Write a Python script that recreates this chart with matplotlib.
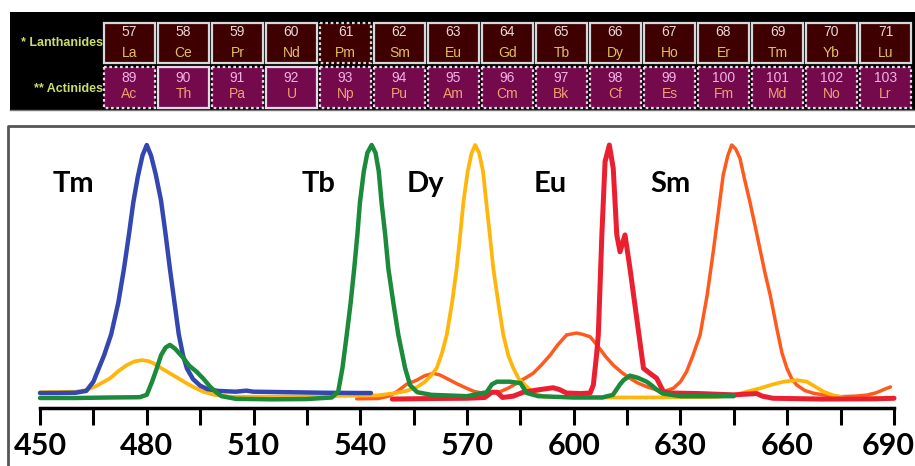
import matplotlib.pyplot as plt
from matplotlib.patches import Rectangle
from matplotlib.transforms import offset_copy

# --- periodic table strip ---
lan_numbers = list(range(57, 72))
lan_symbols = ["La", "Ce", "Pr", "Nd", "Pm", "Sm", "Eu", "Gd", "Tb", "Dy", "Ho", "Er", "Tm", "Yb", "Lu"]
lan_dotted = ["Pm"]
act_numbers = list(range(89, 104))
act_symbols = ["Ac", "Th", "Pa", "U", "Np", "Pu", "Am", "Cm", "Bk", "Cf", "Es", "Fm", "Md", "No", "Lr"]
act_solid = ["Th", "U"]

# --- emission spectra (wavelength nm, normalised intensity) ---
tm_x = [450, 455, 460, 463, 465, 466.5, 468, 470, 472, 473.6, 475, 476.2, 477.5, 478.8, 480,
        481.2, 482.5, 484, 485.3, 486.5, 487.8, 489, 490.2, 491.3, 493, 495, 497, 500, 505,
        508, 510, 520, 530, 540, 543]
tm_y = [0.057, 0.057, 0.058, 0.065, 0.10, 0.15, 0.20, 0.28, 0.40, 0.53, 0.66, 0.78, 0.88, 0.96, 1.0,
        0.96, 0.89, 0.79, 0.66, 0.53, 0.40, 0.28, 0.20, 0.15, 0.11, 0.085, 0.072, 0.065, 0.062,
        0.066, 0.062, 0.060, 0.058, 0.057, 0.057]

tb_x = [450, 460, 470, 478, 480, 481.5, 482.8, 484, 485.3, 486.5, 488, 490.3, 492, 494, 496,
        497.8, 499.5, 501, 505, 515, 525, 532, 533.8, 535, 536.2, 537.3, 538.3, 539.2, 539.9,
        541, 542, 543.2, 544.3, 545.2, 546, 547, 547.9, 549.3, 550.7, 552.6, 554, 556, 560,
        570, 575.5, 577, 578.4, 582, 585, 586.8, 590, 600, 608, 611, 613, 614, 615.8, 618,
        620.5, 622, 623.3, 625, 630, 640, 645]
tb_y = [0.038, 0.038, 0.040, 0.041, 0.05, 0.10, 0.15, 0.20, 0.23, 0.24, 0.225, 0.19, 0.16, 0.138, 0.11,
        0.081, 0.06, 0.045, 0.035, 0.033, 0.034, 0.04, 0.062, 0.152, 0.278, 0.40, 0.53, 0.66, 0.78,
        0.90, 0.97, 1.0, 0.97, 0.90, 0.78, 0.66, 0.53, 0.40, 0.278, 0.152, 0.087, 0.06, 0.05,
        0.045, 0.06, 0.09, 0.10, 0.10, 0.095, 0.057, 0.045, 0.04, 0.04, 0.05, 0.09, 0.106, 0.123, 0.115,
        0.10, 0.085, 0.07, 0.055, 0.045, 0.045, 0.045]

dy_x = [450, 460, 463, 466, 469.7, 472, 474.4, 476.5, 478.6, 480.5, 481.9, 484, 486.5, 489,
        491.2, 493.5, 495.9, 499, 503.4, 515, 530, 545, 550, 553, 556, 558.2, 560, 561.5, 563,
        564.3, 565.8, 567.1, 568.1, 569, 570.2, 571.3, 572.3, 573.4, 574.5, 575.4, 576.4, 577.4,
        578.8, 580.2, 581.6, 583, 584.6, 586.3, 588.5, 591.5, 600, 620, 640, 645, 648.6, 652.4,
        656, 659, 662.7, 665.5, 668, 670.2, 673, 676.7, 687, 689]
dy_y = [0.06, 0.062, 0.068, 0.085, 0.113, 0.14, 0.163, 0.177, 0.182, 0.178, 0.17, 0.152, 0.132, 0.112,
        0.094, 0.077, 0.062, 0.05, 0.043, 0.043, 0.045, 0.048, 0.057, 0.065, 0.08, 0.10, 0.125, 0.152, 0.21,
        0.278, 0.40, 0.53, 0.66, 0.784, 0.90, 0.97, 1.0, 0.97, 0.90, 0.784, 0.66, 0.53,
        0.40, 0.278, 0.20, 0.152, 0.11, 0.087, 0.06, 0.043, 0.04, 0.04, 0.042, 0.048, 0.062, 0.075,
        0.09, 0.10, 0.106, 0.10, 0.08, 0.062, 0.048, 0.037, 0.037, 0.037]

eu_x = [549, 560, 570, 575, 577, 578.4, 580, 583, 585.8, 590.5, 594.2, 596, 598, 602, 604.6,
        605.5, 606.4, 606.9, 607.9, 608.8, 610, 611.1, 612.1, 613, 614.4, 615.8, 617.7, 619.6,
        621.4, 623.3, 625.2, 627, 635, 645, 651.4, 653, 656, 670, 685, 690]
eu_y = [0.034, 0.036, 0.037, 0.04, 0.06, 0.06, 0.04, 0.045, 0.06, 0.07, 0.077, 0.07, 0.057, 0.055, 0.057,
        0.087, 0.20, 0.278, 0.658, 0.937, 1.0, 0.911, 0.658, 0.594, 0.658, 0.531, 0.341, 0.151,
        0.132, 0.113, 0.062, 0.057, 0.055, 0.05, 0.055, 0.045, 0.037, 0.034, 0.035, 0.037]

sm_x = [539, 545, 548, 550.3, 553, 555.9, 558, 560.5, 562.5, 565.2, 567.5, 569.9, 572, 574.6,
        577, 579.3, 581.5, 584, 586.5, 588.6, 591, 593.3, 595.5, 598, 600.8, 602.5, 604.6, 606.5,
        609, 611.1, 613.5, 615.8, 618, 620.5, 623, 625.2, 628, 630, 631.7, 633.5, 635.5, 637.5,
        639.2, 640.7, 642, 643.3, 644.4, 645.5, 646.7, 648, 649.5, 651, 652.4, 653.8, 655.2,
        657.1, 658.5, 659.9, 661.3, 662.7, 665, 667.4, 670, 674.9, 679, 682.3, 685, 688, 689]
sm_y = [0.035, 0.036, 0.045, 0.062, 0.09, 0.106, 0.122, 0.132, 0.125, 0.106, 0.09, 0.075, 0.063, 0.056,
        0.058, 0.062, 0.075, 0.094, 0.115, 0.132, 0.165, 0.20, 0.24, 0.278, 0.285, 0.28, 0.271, 0.24,
        0.195, 0.163, 0.135, 0.113, 0.095, 0.081, 0.07, 0.062, 0.075, 0.10, 0.138, 0.20, 0.278, 0.43,
        0.594, 0.75, 0.886, 0.96, 1.0, 0.985, 0.95, 0.87, 0.784, 0.69, 0.60, 0.51, 0.43,
        0.30, 0.21, 0.151, 0.11, 0.087, 0.066, 0.056, 0.05, 0.043, 0.045, 0.049, 0.058, 0.075, 0.08]

peak_labels = ["Tm", "Tb", "Dy", "Eu", "Sm"]
label_x = [459.3, 528.4, 558.2, 593.3, 627.1]

W, H = 915, 466
fig = plt.figure(figsize=(W / 100, H / 100), dpi=100)

# background axes in pixel coordinates
bg = fig.add_axes([0, 0, 1, 1])
bg.set_xlim(0, W)
bg.set_ylim(H, 0)
bg.axis("off")

bg.add_patch(Rectangle((10, 12), 905, 98, facecolor="black", edgecolor="none"))
bg.plot([10, 915], [110, 110], color="#777777", lw=1)

sans = ["Liberation Sans", "DejaVu Sans"]
bg.text(103, 43, "* Lanthanides", color="#c9dd6c", fontsize=9, fontweight="bold",
        ha="right", va="center", family=sans)
bg.text(103, 89, "** Actinides", color="#c9dd6c", fontsize=9, fontweight="bold",
        ha="right", va="center", family=sans)

for i in range(15):
    x0 = 104 + 54 * i
    # lanthanide row
    ls = (0, (1.2, 1.2)) if lan_symbols[i] in lan_dotted else "-"
    bg.add_patch(Rectangle((x0, 23), 51, 40, facecolor="#3e0000",
                           edgecolor="#d8d8d8", lw=1.6, linestyle=ls))
    bg.text(x0 + 25.5, 32.5, str(lan_numbers[i]), color="#e6d8d8", fontsize=10,
            ha="center", va="center", family=sans)
    bg.text(x0 + 25.5, 53, lan_symbols[i], color="#e0c060", fontsize=10,
            ha="center", va="center", family=sans)
    # actinide row
    ls = "-" if act_symbols[i] in act_solid else (0, (1.2, 1.2))
    bg.add_patch(Rectangle((x0, 67), 51, 41, facecolor="#740a4c",
                           edgecolor="#e8d8e8", lw=1.6, linestyle=ls))
    bg.text(x0 + 25.5, 77.5, str(act_numbers[i]), color="#f0b4e2", fontsize=10,
            ha="center", va="center", family=sans)
    bg.text(x0 + 25.5, 94, act_symbols[i], color="#f2a070", fontsize=10,
            ha="center", va="center", family=sans)

# chart frame
bg.plot([8, 8, 915], [466, 126, 126], color="#555555", lw=2)

# spectra axes
ax = fig.add_axes([40 / W, (H - 408) / H, (894 - 40) / W, (408 - 145) / H])
ax.patch.set_alpha(0)
ax.set_xlim(450, 690)
ax.set_ylim(0, 1.0)

style = dict(clip_on=False, solid_joinstyle="round", solid_capstyle="round")
ax.plot(sm_x, sm_y, color="#ff5a1e", lw=2.5, **style)
ax.plot(dy_x, dy_y, color="#ffb50a", lw=2.7, **style)
ax.plot(eu_x, eu_y, color="#ea1f30", lw=3.6, **style)
ax.plot(tm_x, tm_y, color="#3447b0", lw=3.2, **style)
ax.plot(tb_x, tb_y, color="#1b8a3a", lw=3.2, **style)

font = ["Lato", "DejaVu Sans"]
for name, x in zip(peak_labels, label_x):
    ax.text(x, 0.821, name, fontsize=21, fontweight="bold", ha="center",
            va="baseline", family=font)

for side in ["top", "left", "right"]:
    ax.spines[side].set_visible(False)
ax.spines["bottom"].set_linewidth(2.5)
ax.set_yticks([])
ax.set_xticks(range(450, 691, 30))
ax.set_xticks(range(465, 691, 30), minor=True)
ax.tick_params(axis="x", which="both", direction="out", length=12, width=2.2, color="black")
ax.tick_params(axis="x", which="major", pad=5, labelsize=22)
labels = ax.get_xticklabels()
for lbl in labels:
    lbl.set_fontweight("bold")
    lbl.set_family(font)
# keep the last label inside the figure edge
labels[-1].set_transform(offset_copy(labels[-1].get_transform(), fig=fig, x=-6, units="dots"))

fig.savefig("out.png", dpi=100)
